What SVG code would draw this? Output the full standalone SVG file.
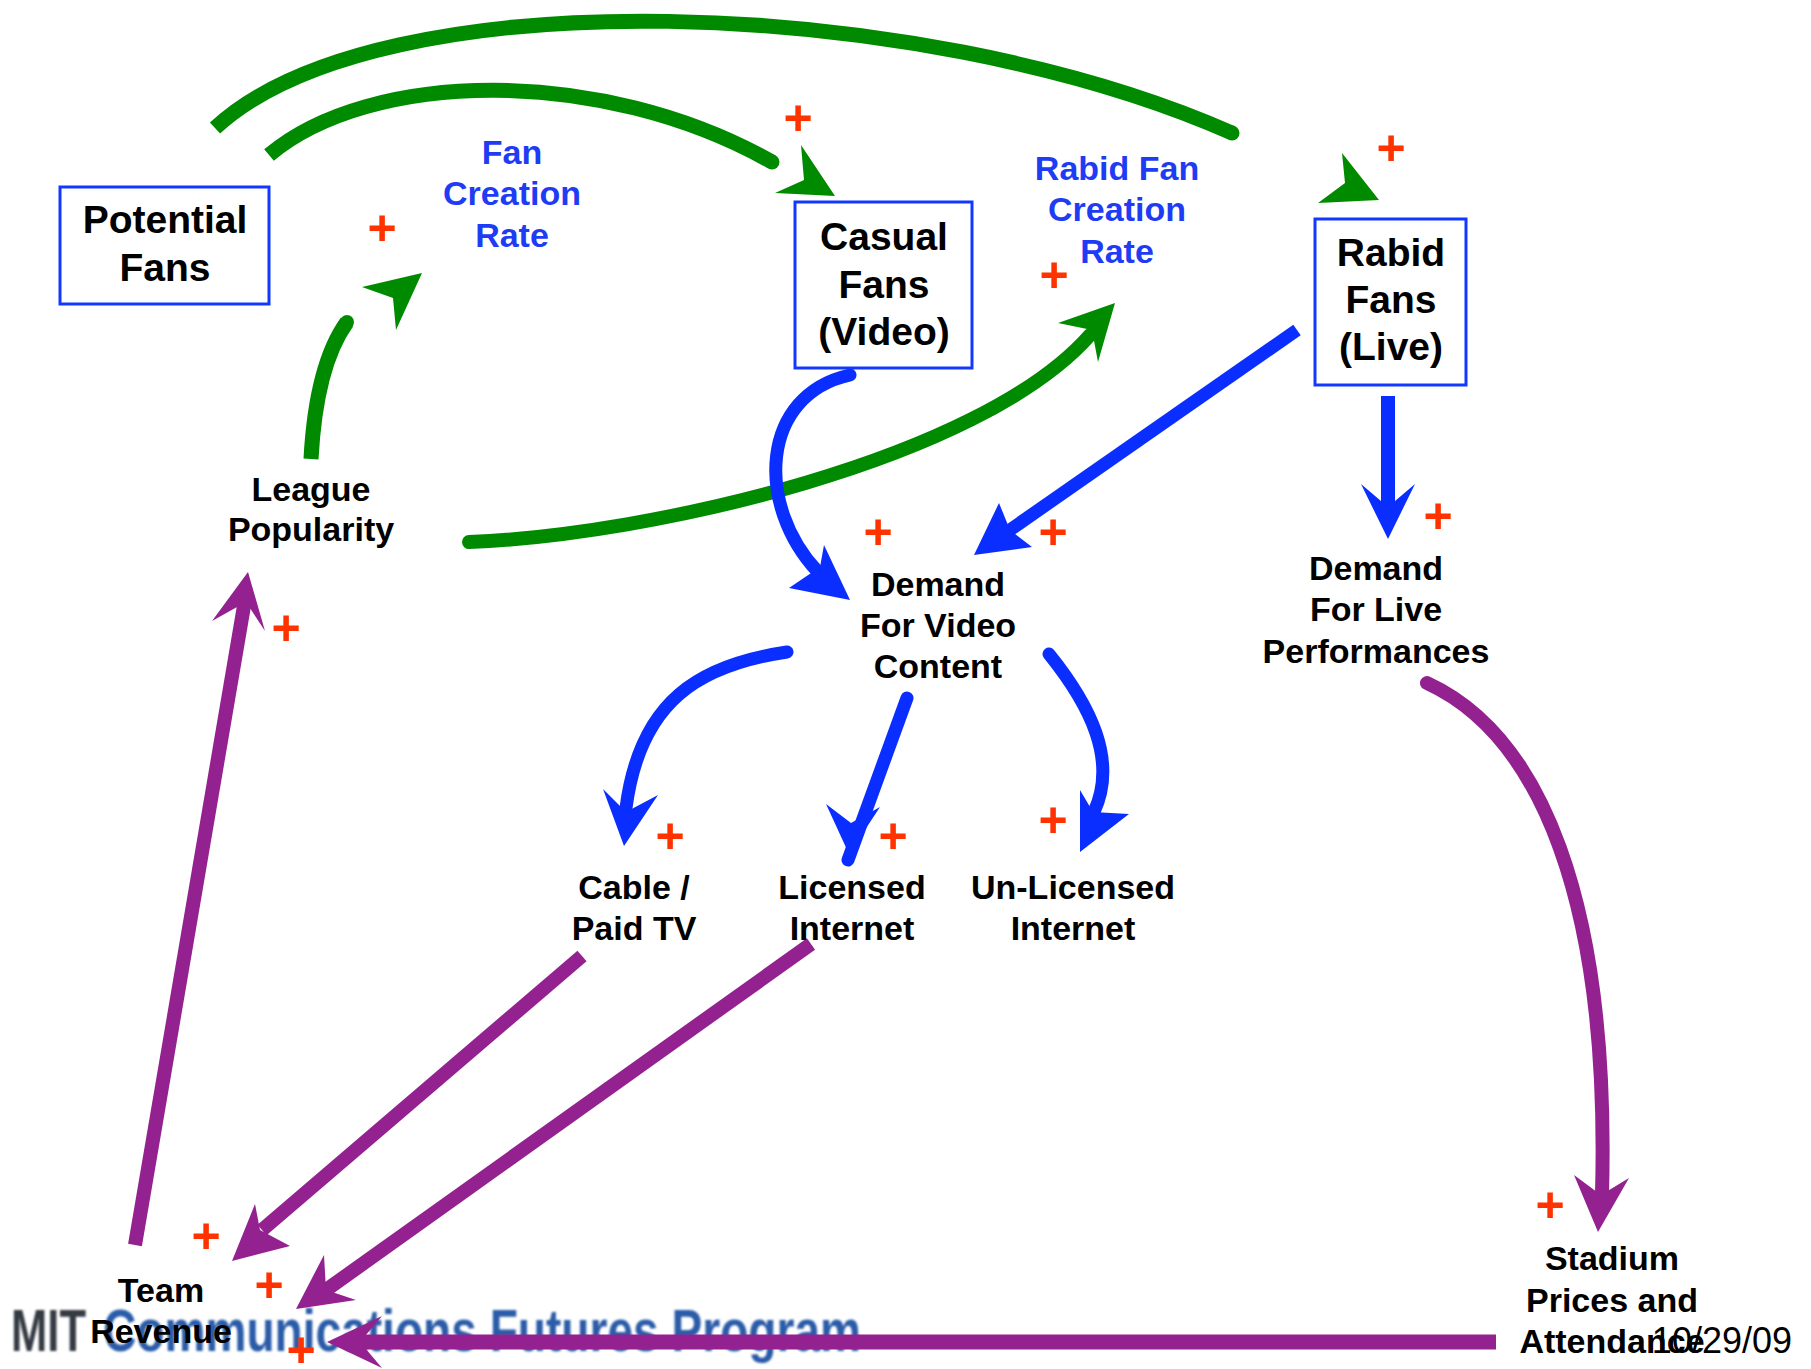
<svg xmlns="http://www.w3.org/2000/svg" width="1811" height="1369" viewBox="0 0 1811 1369">
<style>
.bg{fill:#ffffff}
.box{fill:none;stroke:#1238ff;stroke-width:3}
.t{font-family:"Liberation Sans",Arial,sans-serif;font-weight:bold;font-size:34px;fill:#000;text-anchor:middle}
.tb{font-family:"Liberation Sans",Arial,sans-serif;font-weight:bold;font-size:39px;fill:#000;text-anchor:middle}
.tv{font-family:"Liberation Sans",Arial,sans-serif;font-weight:bold;font-size:34px;fill:#1f3cf5;text-anchor:middle}
.p{font-family:"Liberation Sans",Arial,sans-serif;font-weight:bold;font-size:50px;fill:#ff3300;text-anchor:middle}
.g{fill:none;stroke:#008a00;stroke-width:15}
.gh{fill:#008a00}
.b{fill:none;stroke:#0a2eff;stroke-width:13}
.bh{fill:#0a2eff}
.m{fill:none;stroke:#93218f;stroke-width:14}
.mh{fill:#93218f}
.rc{stroke-linecap:round}
</style>
<defs>
<filter id="blur" x="-5%" y="-20%" width="110%" height="140%"><feGaussianBlur stdDeviation="1.3"/></filter>
</defs>
<rect class="bg" x="0" y="0" width="1811" height="1369"/>

<g id="logo" filter="url(#blur)">
<text x="11" y="1351" font-family="'Liberation Sans',Arial,sans-serif" font-weight="bold" font-size="60" fill="#353b42" textLength="75" lengthAdjust="spacingAndGlyphs">MIT</text>
<text x="103" y="1351" font-family="'Liberation Sans',Arial,sans-serif" font-weight="bold" font-size="60" fill="#2a5ba8" textLength="758" lengthAdjust="spacingAndGlyphs">Communications Futures Program</text>
</g>

<g id="connectors">
<!-- green -->
<path class="g" d="M215,128 C380,-25 920,-5 1232,133" stroke-linecap="butt"/>
<circle class="gh" cx="1232" cy="133" r="7.5"/>
<polygon class="gh" points="1379,200 1342,153 1345,183 1318,203"/>
<path class="g" d="M269,155 C370,70 600,65 772,162" stroke-linecap="butt"/>
<circle class="gh" cx="772" cy="162" r="7.5"/>
<polygon class="gh" points="835,196 801,145 804,180 775,193"/>
<path class="g" d="M311,459 Q316,365 347,322" stroke-linecap="butt"/>
<circle class="gh" cx="347" cy="322" r="7"/>
<polygon class="gh" points="422,273 362,287 393,298 396,330"/>
<path class="g rc" d="M469,542 C650,535 980,460 1090,335" style="stroke-width:14"/>
<polygon class="gh" points="1115,303 1058,323 1092,330 1098,362"/>
<!-- blue -->
<path class="b rc" d="M850,375 C760,395 755,505 818,572"/>
<polygon class="bh" points="850,600 824,545 820,567 789,588"/>
<path class="b" d="M1297,330 L1007,532"/>
<polygon class="bh" points="974,555 999,503 1010,530 1032,547"/>
<path class="b" d="M1388,396 L1388,510" style="stroke-width:14"/>
<polygon class="bh" points="1388,539 1361,484 1388,507 1415,484"/>
<path class="b rc" d="M787,652 C700,665 640,700 626,808"/>
<polygon class="bh" points="624,846 603,789 626,812 658,795"/>
<path class="b rc" d="M907,698 L848,860"/>
<polygon class="bh" points="849,854 826,804 851,823 880,807"/>
<path class="b rc" d="M1049,654 C1090,705 1118,760 1094,812"/>
<polygon class="bh" points="1080,852 1080,790 1093,812 1129,814"/>
<!-- purple -->
<path class="m" d="M135,1245 L245,600"/>
<polygon class="mh" points="248,572 212,621 246,602 265,631"/>
<path class="m" d="M582,956 L262,1230"/>
<polygon class="mh" points="232,1261 255,1204 260,1230 290,1246"/>
<path class="m" d="M811,944 L326,1290"/>
<polygon class="mh" points="296,1309 324,1255 326,1290 356,1300"/>
<path class="m" d="M1496,1342 L360,1342" style="stroke-width:15"/>
<polygon class="mh" points="327,1342 382,1316 360,1342 382,1368"/>
<path class="m rc" d="M1427,683 C1540,735 1610,900 1602,1195"/>
<polygon class="mh" points="1598,1232 1574,1175 1601,1195 1629,1178"/>
</g>

<g id="potential-fans">
<rect class="box" x="60" y="187" width="209" height="117"/>
<text class="tb" x="165" y="233">Potential</text>
<text class="tb" x="165" y="281">Fans</text>
</g>
<g id="casual-fans">
<rect class="box" x="795" y="202" width="177" height="166"/>
<text class="tb" x="884" y="250">Casual</text>
<text class="tb" x="884" y="298">Fans</text>
<text class="tb" x="884" y="345">(Video)</text>
</g>
<g id="rabid-fans">
<rect class="box" x="1315" y="219" width="151" height="166"/>
<text class="tb" x="1391" y="266">Rabid</text>
<text class="tb" x="1391" y="313">Fans</text>
<text class="tb" x="1391" y="360">(Live)</text>
</g>
<g id="fan-creation-rate">
<text class="tv" x="512" y="164">Fan</text>
<text class="tv" x="512" y="205">Creation</text>
<text class="tv" x="512" y="247">Rate</text>
</g>
<g id="rabid-fan-creation-rate">
<text class="tv" x="1117" y="180">Rabid Fan</text>
<text class="tv" x="1117" y="221">Creation</text>
<text class="tv" x="1117" y="263">Rate</text>
</g>
<g id="league-popularity">
<text class="t" x="311" y="501">League</text>
<text class="t" x="311" y="541">Popularity</text>
</g>
<g id="demand-video">
<text class="t" x="938" y="596">Demand</text>
<text class="t" x="938" y="637">For Video</text>
<text class="t" x="938" y="678">Content</text>
</g>
<g id="demand-live">
<text class="t" x="1376" y="580">Demand</text>
<text class="t" x="1376" y="621">For Live</text>
<text class="t" x="1376" y="663">Performances</text>
</g>
<g id="cable-tv">
<text class="t" x="634" y="899">Cable /</text>
<text class="t" x="634" y="940">Paid TV</text>
</g>
<g id="licensed-internet">
<text class="t" x="852" y="899">Licensed</text>
<text class="t" x="852" y="940">Internet</text>
</g>
<g id="unlicensed-internet">
<text class="t" x="1073" y="899">Un-Licensed</text>
<text class="t" x="1073" y="940">Internet</text>
</g>
<g id="team-revenue">
<text class="t" x="161" y="1302">Team</text>
<text class="t" x="161" y="1343">Revenue</text>
</g>
<g id="stadium">
<text class="t" x="1612" y="1270">Stadium</text>
<text class="t" x="1612" y="1312">Prices and</text>
<text class="t" x="1612" y="1353">Attendance</text>
</g>
<g id="date">
<text x="1792" y="1353" font-family="'Liberation Sans',Arial,sans-serif" font-size="36" fill="#000" text-anchor="end">10/29/09</text>
</g>

<g id="polarity">
<text class="p" x="798" y="135">+</text>
<text class="p" x="382" y="245">+</text>
<text class="p" x="1391" y="165">+</text>
<text class="p" x="1054" y="292">+</text>
<text class="p" x="878" y="549">+</text>
<text class="p" x="1053" y="549">+</text>
<text class="p" x="1438" y="533">+</text>
<text class="p" x="286" y="645">+</text>
<text class="p" x="670" y="853">+</text>
<text class="p" x="893" y="853">+</text>
<text class="p" x="1053" y="837">+</text>
<text class="p" x="1550" y="1222">+</text>
<text class="p" x="206" y="1253">+</text>
<text class="p" x="269" y="1302">+</text>
<text class="p" x="301" y="1367">+</text>
</g>
</svg>
